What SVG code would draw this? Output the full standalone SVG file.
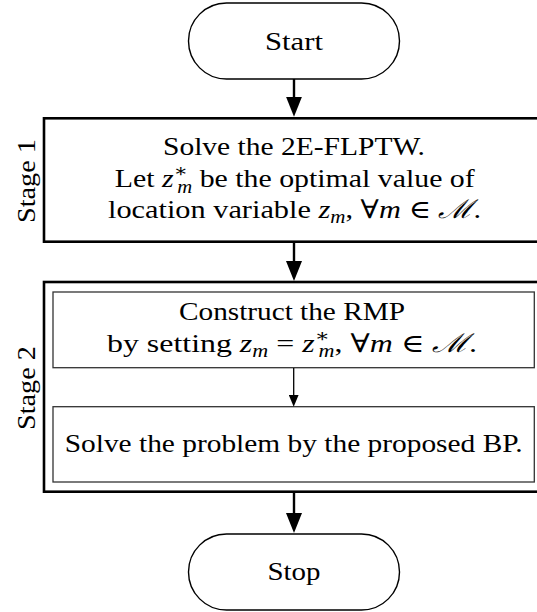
<svg xmlns="http://www.w3.org/2000/svg" width="537" height="612" viewBox="0 0 537 612">
  <style>
    text { font-family: "Liberation Serif", "DejaVu Serif", serif; font-size: 26px; fill: #000; }
    .c { text-anchor: middle; }
    .i { font-style: italic; }
    .s { font-size: 18px; }
    .pill { fill: #fff; stroke: #000; stroke-width: 1.4; }
    .stage { fill: #fff; stroke: #000; stroke-width: 2.6; }
    .inner { fill: #fff; stroke: #333; stroke-width: 1.3; }
    .thick { stroke: #000; stroke-width: 2.4; fill: none; marker-end: url(#headL); }
    .thin { stroke: #000; stroke-width: 1.3; fill: none; marker-end: url(#headS); }
  </style>
  <defs>
    <marker id="headL" markerUnits="userSpaceOnUse" markerWidth="20" markerHeight="16" refX="4" refY="8" orient="auto">
      <path d="M0,0 L20,8 L0,16 z" fill="#000"/>
    </marker>
    <marker id="headS" markerUnits="userSpaceOnUse" markerWidth="12" markerHeight="10" refX="3" refY="5" orient="auto">
      <path d="M0,0 L12,5 L0,10 z" fill="#000"/>
    </marker>
  </defs>

  <rect width="537" height="612" fill="#fff"/>

  <!-- terminal: Start -->
  <g id="start">
    <rect class="pill" x="188.5" y="3" width="211" height="76" rx="38" ry="38"/>
    <text class="c" x="294" y="50" textLength="58" lengthAdjust="spacingAndGlyphs">Start</text>
  </g>

  <!-- stage 1 -->
  <g id="stage1">
    <rect class="stage" x="44" y="118.3" width="501" height="123.4"/>
    <text class="c" transform="translate(35,181) rotate(-90)" textLength="84" lengthAdjust="spacingAndGlyphs">Stage 1</text>
    <text class="c" x="294" y="155" textLength="262" lengthAdjust="spacingAndGlyphs">Solve the 2E-FLPTW.</text>
    <text x="114.7" y="187" textLength="360" lengthAdjust="spacingAndGlyphs">Let <tspan class="i">z</tspan><tspan class="s" dy="-10">∗</tspan><tspan class="s i" dx="-9" dy="16">m</tspan><tspan dy="-6"> be the optimal value of</tspan></text>
    <text x="108" y="218" textLength="373" lengthAdjust="spacingAndGlyphs">location variable <tspan class="i">z</tspan><tspan class="s i" dy="5">m</tspan><tspan dy="-5">, ∀</tspan><tspan class="i">m</tspan>  ∈  <tspan class="i">ℳ</tspan>.</text>
  </g>

  <!-- stage 2 -->
  <g id="stage2">
    <rect class="stage" x="44" y="282" width="500" height="209.7"/>
    <text class="c" transform="translate(35,388) rotate(-90)" textLength="84" lengthAdjust="spacingAndGlyphs">Stage 2</text>
  </g>

  <g id="rmp">
    <rect class="inner" x="53" y="292" width="481.3" height="75.7"/>
    <text class="c" x="292" y="320" textLength="226" lengthAdjust="spacingAndGlyphs">Construct the RMP</text>
    <text x="107" y="352" textLength="370" lengthAdjust="spacingAndGlyphs">by setting <tspan class="i">z</tspan><tspan class="s i" dy="5">m</tspan><tspan dy="-5">  =  </tspan><tspan class="i">z</tspan><tspan class="s" dy="-10">∗</tspan><tspan class="s i" dx="-9" dy="15">m</tspan><tspan dy="-5">, ∀</tspan><tspan class="i">m</tspan>  ∈  <tspan class="i">ℳ</tspan>.</text>
  </g>

  <g id="bp">
    <rect class="inner" x="53" y="406.7" width="481.3" height="75.3"/>
    <text class="c" x="293.7" y="452" textLength="458" lengthAdjust="spacingAndGlyphs">Solve the problem by the proposed BP.</text>
  </g>

  <!-- terminal: Stop -->
  <g id="stop">
    <rect class="pill" x="188.5" y="534" width="211" height="76" rx="38" ry="38"/>
    <text class="c" x="294" y="580" textLength="53" lengthAdjust="spacingAndGlyphs">Stop</text>
  </g>

  <!-- connectors, drawn last so the stage frames do not hide them -->
  <g id="connectors">
    <line class="thick" x1="294" y1="79" x2="294" y2="100.7"/>
    <line class="thick" x1="294" y1="243" x2="294" y2="265"/>
    <line class="thin" x1="293.7" y1="368" x2="293.7" y2="397.7"/>
    <line class="thick" x1="294" y1="492" x2="294" y2="517"/>
  </g>
</svg>
